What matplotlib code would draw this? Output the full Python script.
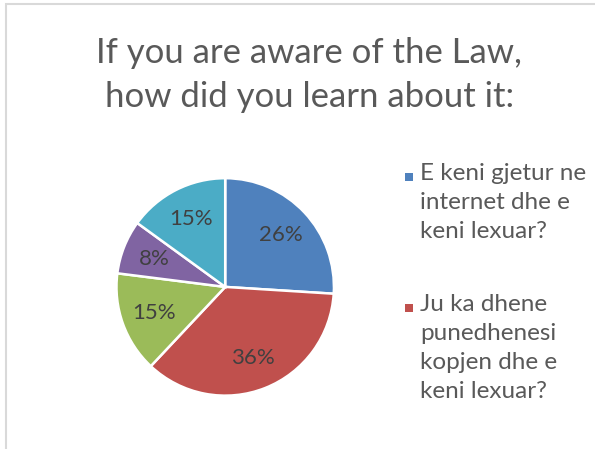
import matplotlib.pyplot as plt
from matplotlib.patches import Rectangle

# slice values (percent), clockwise from 12 o'clock
values = [26, 36, 15, 8, 15]
colors = ['#4F81BD', '#C0504D', '#9BBB59', '#8064A2', '#4BACC6']
legend_labels = ['E keni gjetur ne\ninternet dhe e\nkeni lexuar?',
                 'Ju ka dhene\npunedhenesi\nkopjen dhe e\nkeni lexuar?']
title = 'If you are aware of the Law,\nhow did you learn about it:'

plt.rcParams['font.family'] = ['Lato', 'DejaVu Sans']

W, H = 595, 449
fig = plt.figure(figsize=(W / 100, H / 100), dpi=100)

# chart frame (only left and top edges fall inside the picture)
fig.patches.append(Rectangle((6/W, -0.1), 1.2, 1 - 3.5/H + 0.1,
                             transform=fig.transFigure, fill=False,
                             edgecolor='#D9D9D9', linewidth=1.5))

fig.text(0.52, 1 - 75/H, title, ha='center', va='center', fontsize=25,
         color='#595959', linespacing=1.45)

ax = fig.add_axes([0.192, 0.114, 0.373, 0.494])
wedges, texts = ax.pie(values, colors=colors, startangle=90, counterclock=False,
                       labels=[f'{v}%' for v in values], labeldistance=0.7,
                       wedgeprops=dict(edgecolor='white', linewidth=1.8),
                       textprops=dict(color='#404040', fontsize=16,
                                      ha='center', va='center'))
ax.set_xlim(-1.02, 1.02)
ax.set_ylim(-1.02, 1.02)
ax.set_aspect('equal')

# legend drawn by hand so the marker sits on the first text line
legend_y = [177, 308]
for wedge, lab, y in zip(wedges[:2], legend_labels, legend_y):
    fig.patches.append(Rectangle((405/W, 1 - (y + 4)/H), 8/W, 8/H,
                                 transform=fig.transFigure,
                                 facecolor=wedge.get_facecolor(), edgecolor='none'))
    fig.text(420/W, 1 - (y - 14)/H, lab, ha='left', va='top', fontsize=17.5,
             color='#595959', linespacing=1.47)

fig.savefig('out.png', dpi=100)
